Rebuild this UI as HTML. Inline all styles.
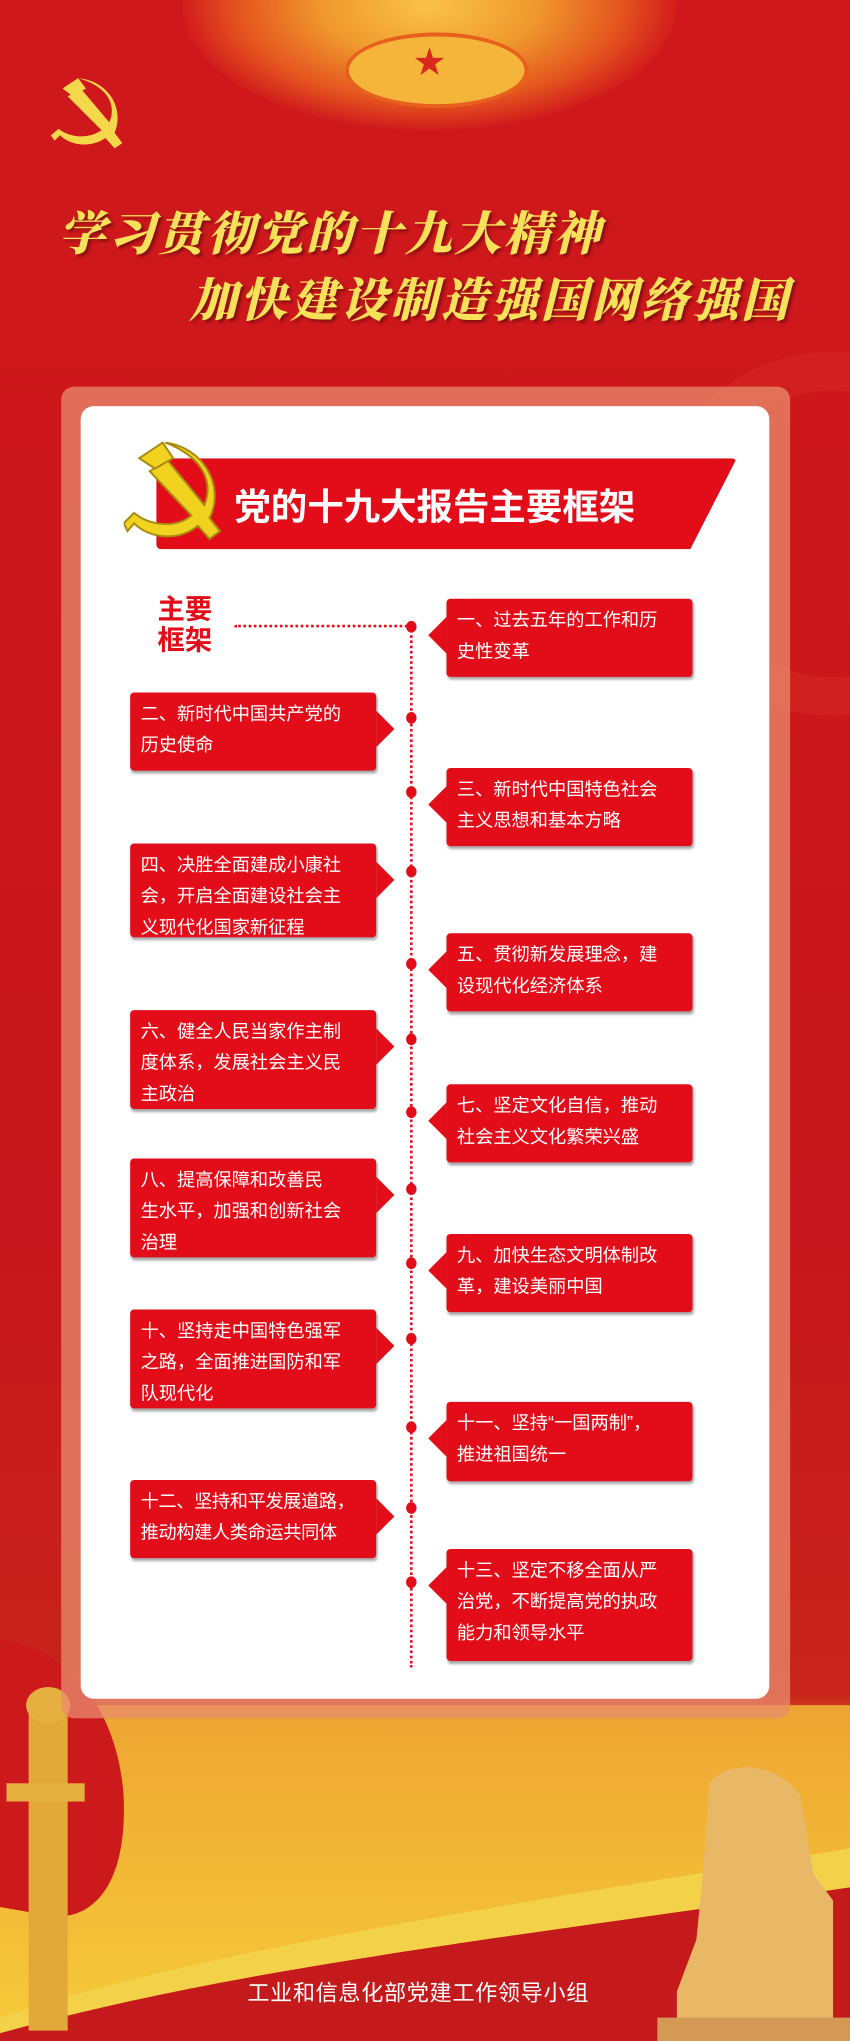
<!DOCTYPE html>
<html><head><meta charset="utf-8"><style>
html,body{margin:0;padding:0;width:850px;height:2040px;overflow:hidden;background:#c8161d}
#s{position:absolute;left:0;top:0;width:653px;height:1568px;transform:scale(1.30168);transform-origin:0 0;overflow:hidden;
background:linear-gradient(180deg,#d0181c 0%,#c7161d 60%,#c8241c 83%,#e68a2a 86%,#f3b62e 92%,#f1b52a 100%);
font-family:"Liberation Sans","Noto Sans CJK SC",sans-serif}
.abs{position:absolute}
.box{position:absolute;background:#e20d18;color:#fff;font-size:14px;line-height:24px;padding:4px 20px 4px 8px;box-sizing:border-box;border-radius:3px;box-shadow:1px 2px 2px rgba(0,0,0,.35)}
.box.r:before{content:"";position:absolute;left:-14px;top:14px;border-right:14px solid #e20d18;border-top:14px solid transparent;border-bottom:14px solid transparent}
.box.l:after{content:"";position:absolute;right:-14px;top:14px;border-left:14px solid #e20d18;border-top:14px solid transparent;border-bottom:14px solid transparent}
.dot{position:absolute;left:312px;width:8px;height:9px;border-radius:50%;background:#e20d18}
</style></head><body><div id="s">
<div class="abs" style="left:140px;top:-90px;width:380px;height:190px;border-radius:50%;background:radial-gradient(ellipse at center,#f9c24a 0%,#f09a2e 30%,#e4541e 55%,rgba(210,30,28,0) 72%)"></div>
<div class="abs" style="left:265px;top:25px;width:135px;height:52px;border-radius:50%;background:#f5b43a;border:3px solid #e8601e"></div>
<div class="abs" style="left:318px;top:28px;color:#d8281c;font-size:24px">★</div>
<div class="abs" style="left:500px;top:270px;width:220px;height:220px;border-radius:50%;border:30px solid rgba(230,70,50,.2)"></div>
<svg class="abs" style="left:38px;top:58px" width="60" height="58" viewBox="0 0 60 58">
<path d="M22 2 C45 4 58 25 50 44 L56 52 L50 56 L43 48 C33 55 18 55 8 46 L4 50 L1 46 L7 41 C16 48 30 49 40 42 L14 16 L24 10 L46 36 C52 22 44 8 22 2Z" fill="#f5d74b"/>
<path d="M10 10 L22 2 L28 10 L18 16Z" fill="#f5d74b"/></svg>
<div class="abs" style="left:45px;top:152px;font-family:'Noto Serif CJK SC',serif;font-weight:900;font-size:36px;color:#f8e15a;letter-spacing:2px;text-shadow:2px 2px 2px #8a1010;font-style:italic">学习贯彻党的十九大精神</div>
<div class="abs" style="left:146px;top:203px;font-family:'Noto Serif CJK SC',serif;font-weight:900;font-size:36px;color:#f8e15a;letter-spacing:2.5px;text-shadow:2px 2px 2px #8a1010;font-style:italic">加快建设制造强国网络强国</div>
<svg class="abs" style="left:0;top:1250px" width="653" height="318" viewBox="0 0 653 318">
<defs><linearGradient id="g" x1="0" y1="0" x2="0" y2="1"><stop offset="0" stop-color="#eea532"/><stop offset="1" stop-color="#f6cc3a"/></linearGradient></defs>
<rect x="0" y="60" width="653" height="258" fill="url(#g)"/>
<path d="M0 300 C150 250 350 220 653 170 L653 318 L0 318Z" fill="#f3d24a"/>
<path d="M0 312 C180 262 380 240 653 200 L653 318 L0 318Z" fill="#c41a1c"/>
<path d="M0 10 C50 15 90 60 95 130 C98 200 70 225 40 222 L0 215Z" fill="#cc1a1c"/>
<rect x="22" y="60" width="30" height="250" fill="#e2a83a"/>
<rect x="5" y="120" width="60" height="14" fill="#e6b040"/>
<ellipse cx="37" cy="60" rx="17" ry="14" fill="#e6b040"/>
<path d="M545 120 C560 100 600 105 615 130 L625 190 L640 210 L640 300 L520 318 L520 280 L535 240 L540 190Z" fill="#e9b867"/>
<rect x="505" y="300" width="148" height="18" fill="#d49a55"/>
</svg>
<div class="abs" style="left:47px;top:297px;width:560px;height:1023px;border-radius:10px;background:rgba(232,140,110,.75)"></div>
<div class="abs" style="left:62px;top:312px;width:529px;height:993px;border-radius:10px;background:#fff"></div>
<div class="abs" style="left:120px;top:352px;width:446px;height:70px;background:#e20d18;clip-path:polygon(0 0,100% 0,92% 100%,0 100%);border-radius:4px"></div>
<svg class="abs" style="left:95px;top:336px" width="80" height="85" viewBox="0 0 80 85">
<path d="M32 4 C62 8 78 38 66 62 L74 72 L66 78 L57 68 C42 80 20 78 8 66 L3 72 L0 66 L8 58 C20 68 40 70 52 60 L20 26 L34 18 L62 52 C70 32 58 14 32 4Z" fill="#f1d21e" stroke="#a88a10" stroke-width="1.5"/>
<path d="M12 16 L30 4 L38 16 L24 24Z" fill="#f1d21e" stroke="#a88a10" stroke-width="1.5"/></svg>
<div class="abs" style="left:180px;top:368px;font-size:28px;font-weight:bold;color:#fff">党的十九大报告主要框架</div>
<div class="abs" style="left:121px;top:457px;font-size:21px;line-height:24px;font-weight:bold;color:#e20d18">主要<br>框架</div>
<div class="abs" style="left:180px;top:480px;width:136px;border-top:2px dotted #e20d18"></div>
<div class="abs" style="left:315px;top:481px;height:800px;border-left:2px dotted #e20d18"></div>
<div class="dot" style="top:477px"></div><div class="dot" style="top:547px"></div><div class="dot" style="top:604px"></div>
<div class="dot" style="top:665px"></div><div class="dot" style="top:736px"></div><div class="dot" style="top:794px"></div>
<div class="dot" style="top:850px"></div><div class="dot" style="top:909px"></div><div class="dot" style="top:966px"></div>
<div class="dot" style="top:1024px"></div><div class="dot" style="top:1092px"></div><div class="dot" style="top:1154px"></div>
<div class="dot" style="top:1211px"></div>
<div class="box r" style="left:343px;top:460px;width:189px;height:60px">一、过去五年的工作和历史性变革</div>
<div class="box l" style="left:100px;top:532px;width:189px;height:60px">二、新时代中国共产党的历史使命</div>
<div class="box r" style="left:343px;top:590px;width:189px;height:60px">三、新时代中国特色社会主义思想和基本方略</div>
<div class="box l" style="left:100px;top:648px;width:189px;height:72px">四、决胜全面建成小康社会，开启全面建设社会主义现代化国家新征程</div>
<div class="box r" style="left:343px;top:717px;width:189px;height:60px">五、贯彻新发展理念，建设现代化经济体系</div>
<div class="box l" style="left:100px;top:776px;width:189px;height:76px">六、健全人民当家作主制度体系，发展社会主义民主政治</div>
<div class="box r" style="left:343px;top:833px;width:189px;height:60px">七、坚定文化自信，推动社会主义文化繁荣兴盛</div>
<div class="box l" style="left:100px;top:890px;width:189px;height:76px">八、提高保障和改善民<br>生水平，加强和创新社会治理</div>
<div class="box r" style="left:343px;top:948px;width:189px;height:60px">九、加快生态文明体制改革，建设美丽中国</div>
<div class="box l" style="left:100px;top:1006px;width:189px;height:76px">十、坚持走中国特色强军之路，全面推进国防和军队现代化</div>
<div class="box r" style="left:343px;top:1077px;width:189px;height:61px">十一、坚持“一国两制”，推进祖国统一</div>
<div class="box l" style="left:100px;top:1137px;width:189px;height:60px;padding-right:2px;white-space:nowrap;letter-spacing:-0.3px">十二、坚持和平发展道路，<br>推动构建人类命运共同体</div>
<div class="box r" style="left:343px;top:1190px;width:189px;height:86px">十三、坚定不移全面从严治党，不断提高党的执政能力和领导水平</div>
<div class="abs" style="left:190px;top:1517px;font-size:17px;color:#fff;letter-spacing:0.5px">工业和信息化部党建工作领导小组</div>
</div></body></html>
